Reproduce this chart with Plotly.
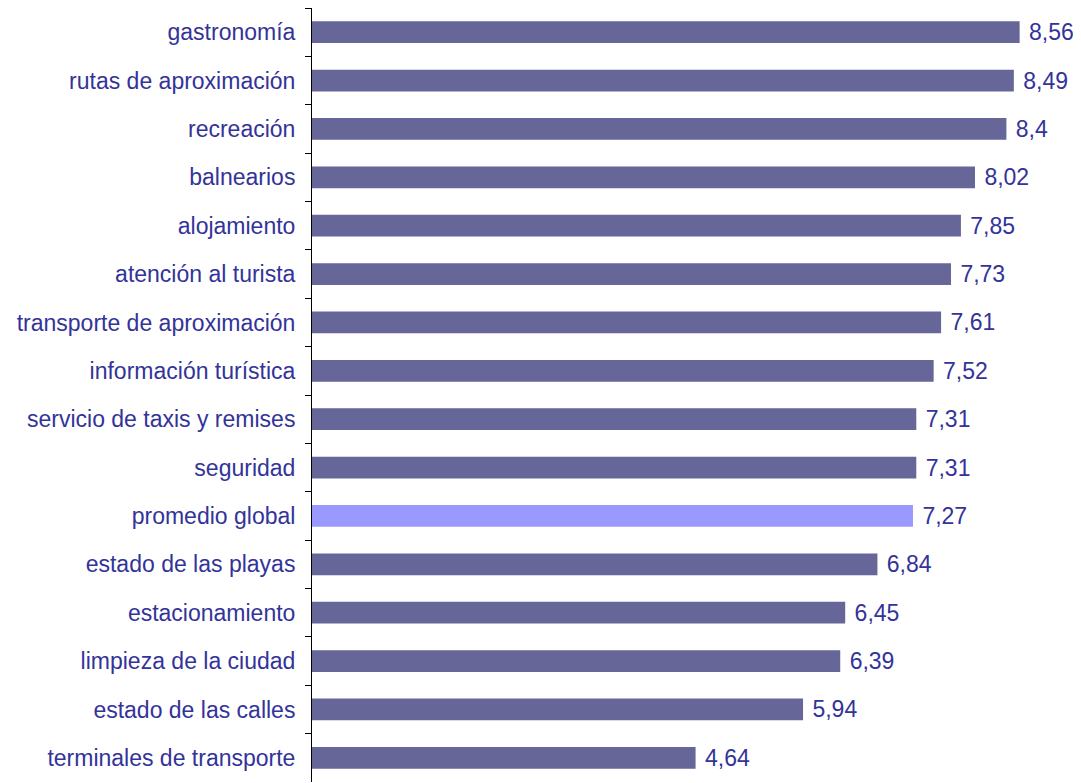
import plotly.graph_objects as go

# datos de la encuesta (puntaje promedio por rubro)
rubros = [
    "gastronomía", "rutas de aproximación", "recreación", "balnearios",
    "alojamiento", "atención al turista", "transporte de aproximación",
    "información turística", "servicio de taxis y remises", "seguridad",
    "promedio global", "estado de las playas", "estacionamiento",
    "limpieza de la ciudad", "estado de las calles", "terminales de transporte",
]
puntajes = [8.56, 8.49, 8.4, 8.02, 7.85, 7.73, 7.61, 7.52, 7.31, 7.31,
            7.27, 6.84, 6.45, 6.39, 5.94, 4.64]

colores = ["#9999FF" if r == "promedio global" else "#666699" for r in rubros]
etiquetas = [" " + str(v).replace(".", ",") for v in puntajes]

fig = go.Figure()
fig.add_trace(go.Bar(
    x=puntajes,
    y=rubros,
    orientation="h",
    marker=dict(color=colores, line=dict(width=0)),
    text=etiquetas,
    textposition="outside",
    constraintext="none",
    cliponaxis=False,
    textfont=dict(family="Liberation Sans, Arial", size=23, color="#333399"),
    hoverinfo="x+y",
))

# la página agrega ~8 px de margen al body, se compensa aquí
fig.update_layout(
    width=1073, height=775,
    margin=dict(l=304, r=25, t=0, b=1, autoexpand=False),
    plot_bgcolor="white",
    paper_bgcolor="white",
    bargap=0.55,
    showlegend=False,
    font=dict(family="Liberation Sans, Arial", size=23, color="#333399"),
    xaxis=dict(range=[0, 9], visible=False),
    yaxis=dict(
        autorange="reversed",
        showline=True, linecolor="black", linewidth=1,
        ticks="outside", ticklen=6, tickcolor="black",
        tickson="boundaries",
        ticklabelstandoff=11,
        showgrid=False,
        tickfont=dict(size=23, color="#333399"),
    ),
)

fig.write_html("out.html")
